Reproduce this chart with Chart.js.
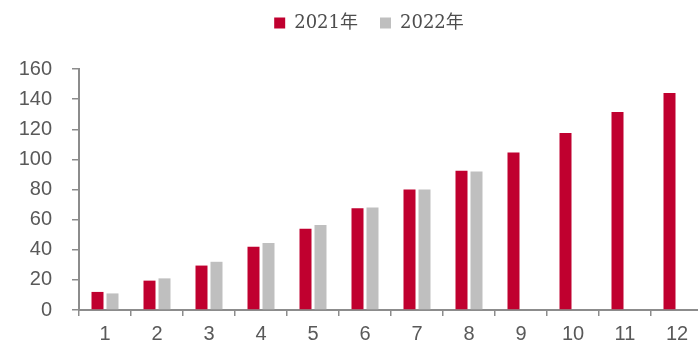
<!DOCTYPE html>
<html lang="zh-CN">
<head>
    <meta charset="UTF-8">
    <title>2021年 vs 2022年</title>
    <script src="https://cdn.jsdelivr.net/npm/chart.js"></script>
    <style>
        html, body {
            margin: 0;
            padding: 0;
            background: #ffffff;
            overflow: hidden;
        }
        #chart {
            display: block;
        }
    </style>
</head>
<body>
    <canvas id="chart" width="738" height="342"></canvas>

    <script>
        // 数据
        const months = ['1', '2', '3', '4', '5', '6', '7', '8', '9', '10', '11', '12'];
        const values2021 = [12, 19.5, 29.5, 42, 54, 67.5, 80, 92.5, 104.5, 117.5, 131.5, 144];
        const values2022 = [11, 21, 32, 44.5, 56.5, 68, 80, 92, null, null, null, null];
        const seriesNames = ['2021年', '2022年'];
        const yTicks = [0, 20, 40, 60, 80, 100, 120, 140, 160];

        const axisColor = '#8c8c8c';
        const textColor = '#595959';

        const ctx = document.getElementById('chart').getContext('2d');
        const chart = new Chart(ctx, {
            type: 'bar',
            data: {
                labels: months,
                datasets: [{
                    label: seriesNames[0],
                    data: values2021,
                    backgroundColor: '#C0002F',
                    borderWidth: 0
                }, {
                    label: seriesNames[1],
                    data: values2022,
                    backgroundColor: '#BFBFBF',
                    borderWidth: 0
                }]
            },
            options: {
                responsive: false,
                animation: false,
                categoryPercentage: 30 / 52,
                barPercentage: 0.8,
                layout: {
                    padding: { top: -8, left: 0, right: 0, bottom: 0 }
                },
                plugins: {
                    legend: {
                        position: 'top',
                        labels: {
                            boxWidth: 11,
                            boxHeight: 11,
                            padding: 22,
                            color: '#4d4d4d',
                            font: { family: "'DejaVu Serif', 'Noto Sans CJK SC', serif", size: 18 }
                        }
                    },
                    // 空标题只用来把绘图区往下推
                    title: {
                        display: true,
                        text: '',
                        weight: 500,
                        font: { size: 10, lineHeight: 1 },
                        padding: { top: 0, bottom: 17 }
                    },
                    tooltip: { enabled: false }
                },
                scales: {
                    x: {
                        grid: {
                            display: true,
                            drawOnChartArea: false,
                            drawTicks: true,
                            tickLength: 6,
                            tickColor: axisColor,
                            lineWidth: 1.5
                        },
                        border: { display: true, color: axisColor, width: 2 },
                        ticks: {
                            padding: 6,
                            color: textColor,
                            font: { family: "'Liberation Sans', Arial, sans-serif", size: 20 }
                        },
                        afterFit: (scale) => { scale.height = 31; }
                    },
                    y: {
                        min: 0,
                        max: 160,
                        afterBuildTicks: (scale) => {
                            scale.ticks = yTicks.map(v => ({ value: v }));
                        },
                        grid: {
                            display: true,
                            drawOnChartArea: false,
                            drawTicks: true,
                            tickLength: 7,
                            tickColor: axisColor,
                            lineWidth: 1.5
                        },
                        border: { display: true, color: axisColor, width: 2 },
                        ticks: {
                            padding: 20,
                            color: textColor,
                            font: { family: "'Liberation Sans', Arial, sans-serif", size: 20 }
                        },
                        afterFit: (scale) => { scale.width = 79; }
                    },
                    // 右侧占位轴，让图例居中位置与原图一致
                    spacer: {
                        type: 'linear',
                        position: 'right',
                        display: true,
                        grid: { display: false },
                        border: { display: false },
                        ticks: { display: false },
                        afterFit: (scale) => { scale.width = 35; }
                    }
                }
            }
        });
    </script>
</body>
</html>
